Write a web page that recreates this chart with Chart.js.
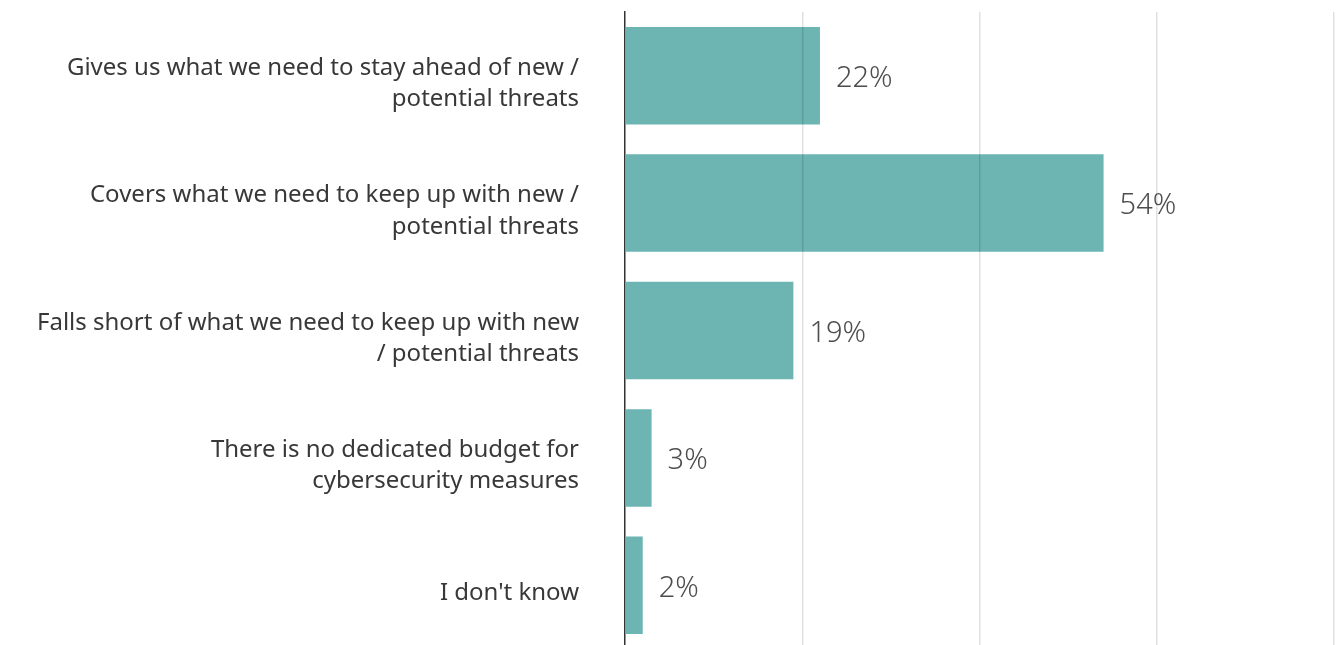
<!DOCTYPE html>
<html>
<head>
<meta charset="utf-8">
<script src="https://cdn.jsdelivr.net/npm/chart.js@4.4.1/dist/chart.umd.min.js"></script>
<style>
html,body{margin:0;padding:0;background:#fff;overflow:hidden;}
#wrap{position:relative;width:1341px;height:652px;}
</style>
</head>
<body>
<div id="wrap"><canvas id="c"></canvas></div>
<script>
const categories = [
  ["Gives us what we need to stay ahead of new /", "potential threats"],
  ["Covers what we need to keep up with new /", "potential threats"],
  ["Falls short of what we need to keep up with new", "/ potential threats"],
  ["There is no dedicated budget for", "cybersecurity measures"],
  ["I don't know"]
];
const values = [22, 54, 19, 3, 2];
const xTicks = [0, 20, 40, 60, 80];

const valueLabels = {
  id: 'valueLabels',
  afterDatasetsDraw(chart) {
    const ctx = chart.ctx;
    const meta = chart.getDatasetMeta(0);
    ctx.save();
    ctx.font = '300 29px "Noto Sans"';
    ctx.fillStyle = '#4d4d4d';
    ctx.textAlign = 'left';
    ctx.textBaseline = 'middle';
    meta.data.forEach((bar, i) => {
      ctx.fillText(values[i] + '%', bar.x + 16, bar.y + 3);
    });
    ctx.restore();
  }
};

new Chart(document.getElementById('c'), {
  type: 'bar',
  data: {
    labels: categories,
    datasets: [{
      data: values,
      backgroundColor: '#6cb5b3',
      borderWidth: 0,
      categoryPercentage: 1,
      barPercentage: 0.765
    }]
  },
  options: {
    indexAxis: 'y',
    responsive: true,
    maintainAspectRatio: false,
    animation: false,
    layout: { padding: { top: 12, right: 7, left: 0, bottom: 3 } },
    plugins: { legend: { display: false }, tooltip: { enabled: false } },
    scales: {
      x: {
        min: 0, max: 80,
        afterBuildTicks(axis) { axis.ticks = xTicks.map(v => ({ value: v })); },
        afterFit(scale) { scale.height = 0; },
        ticks: { display: false },
        grid: { color: ctx => ctx.tick && ctx.tick.value === 0 ? 'rgba(0,0,0,0)' : 'rgba(0,0,0,0.12)', lineWidth: 1.5, drawTicks: false, z: 1 },
        border: { display: false }
      },
      y: {
        afterFit(scale) { scale.width = 625; scale.paddingTop = 0; scale.paddingBottom = 0; },
        ticks: {
          color: '#383838',
          font: { family: 'Noto Sans', size: 24, lineHeight: 1.3 },
          padding: 46,
          labelOffset: 8,
          autoSkip: false
        },
        grid: { display: false, drawTicks: false },
        border: { display: true, color: '#333333', width: 1.5 }
      }
    }
  },
  plugins: [valueLabels]
});
</script>
</body>
</html>
